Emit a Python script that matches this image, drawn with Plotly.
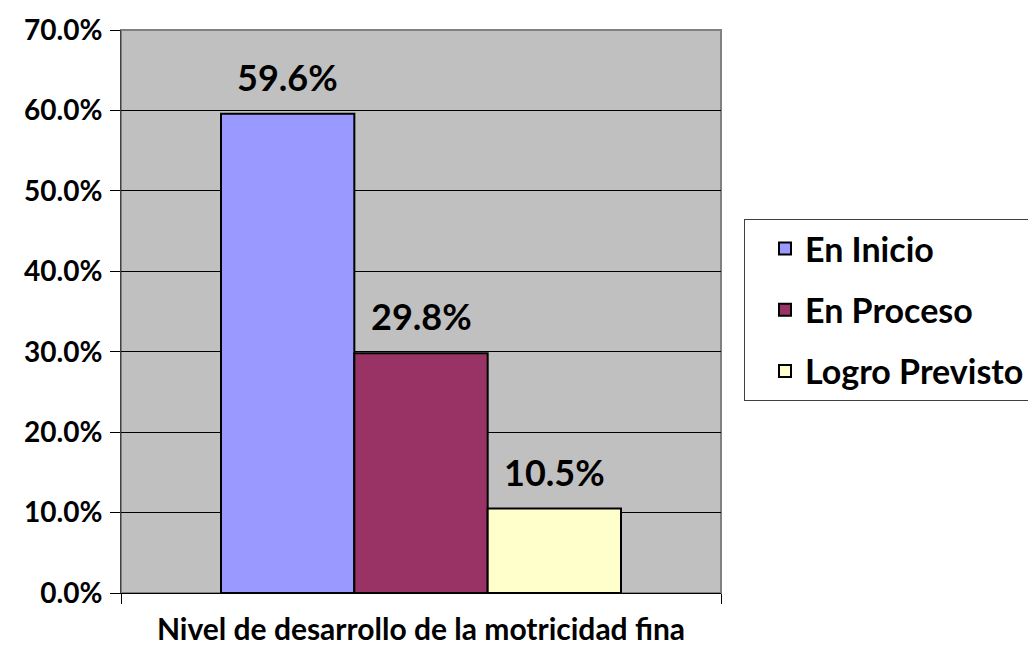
import plotly.graph_objects as go

category = ["Nivel de desarrollo de la motricidad fina"]
series_names = ["En Inicio", "En Proceso", "Logro Previsto"]
series_values = [0.596, 0.298, 0.105]
series_colors = ["#9999FF", "#993366", "#FFFFCC"]
y_tick_values = [0.0, 0.1, 0.2, 0.3, 0.4, 0.5, 0.6, 0.7]

PAGE_OFF = 8  # default page body margin
W, H = 1036 - PAGE_OFF, 646 - PAGE_OFF
L, T = 121 - PAGE_OFF, 30 - PAGE_OFF
R = W - (721 - PAGE_OFF)
B = H - (593 - PAGE_OFF)
BARGAP = 1 / 3
FONT = "Lato"

fig = go.Figure()
for name, val, col in zip(series_names, series_values, series_colors):
    fig.add_trace(go.Bar(
        x=category, y=[val], name=name, legendgroup=name,
        marker=dict(color=col, line=dict(color="black", width=2)),
    ))

plot_w = W - L - R
plot_h = H - T - B
bar_w = plot_w * (1 - BARGAP) / len(series_names)
for i, val in enumerate(series_values):
    fig.add_annotation(
        x=category[0], y=val, xref="x", yref="y",
        text=f"{val*100:.1f}%", showarrow=False,
        xshift=(i - (len(series_names) - 1) / 2) * bar_w,
        yanchor="bottom", yshift=13,
        font=dict(family=FONT, size=36, color="black", weight="bold"),
    )

fig.add_shape(type="rect", xref="x domain", yref="y domain",
              x0=0, x1=1, y0=0, y1=1, line=dict(color="#808080", width=2),
              layer="below")

legend_left = 744 - PAGE_OFF
legend_top = 219 - PAGE_OFF

fig.update_layout(
    width=W, height=H,
    margin=dict(l=L, r=R, t=T, b=B, autoexpand=False),
    paper_bgcolor="white", plot_bgcolor="#C0C0C0",
    barmode="group", bargap=BARGAP, bargroupgap=0,
    font=dict(family=FONT, color="black"),
    showlegend=True,
    legend=dict(
        x=(legend_left - L) / plot_w, xanchor="left",
        y=(H - B - legend_top) / plot_h, yanchor="top",
        bordercolor="#404040", borderwidth=1, bgcolor="white",
        font=dict(family=FONT, size=34, color="black", weight="bold"),
        traceorder="grouped", tracegroupgap=14, indentation=20,
        itemclick=False,
    ),
    xaxis=dict(
        type="category", showticklabels=False, tickson="boundaries",
        ticks="outside", ticklen=10, tickcolor="black",
        showline=True, linecolor="black", linewidth=1,
        showgrid=False, automargin=False,
        title=dict(text=category[0], standoff=34,
                   font=dict(family=FONT, size=30, color="black", weight="bold")),
    ),
    yaxis=dict(
        range=[0, 0.7], tickvals=y_tick_values, tickformat=".1%",
        ticks="outside", ticklen=10, tickcolor="black",
        showline=True, linecolor="#404040", linewidth=1,
        showgrid=True, gridcolor="black", gridwidth=1,
        zeroline=False, ticklabelstandoff=2, automargin=False,
        tickfont=dict(family=FONT, size=28, color="black", weight="bold"),
    ),
)

fig.write_html("out.html")
